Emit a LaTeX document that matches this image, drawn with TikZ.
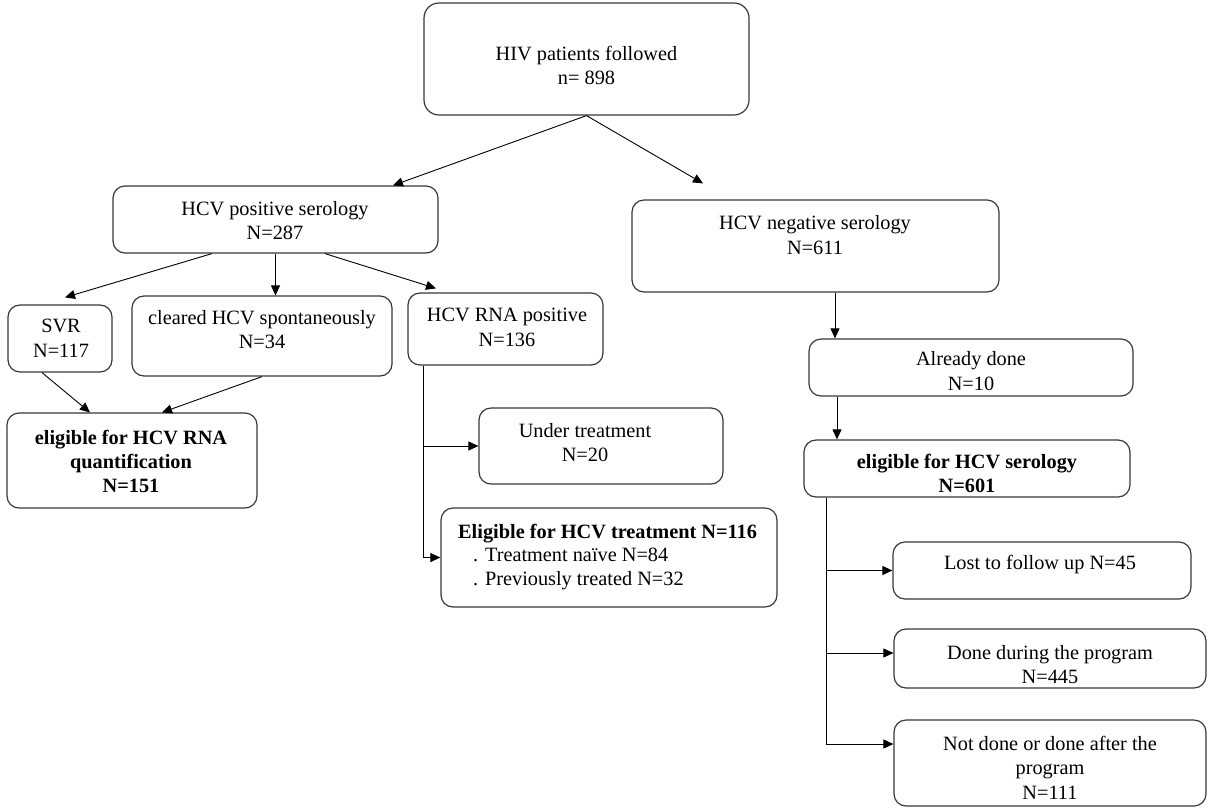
\documentclass[tikz,border=0pt]{standalone}
\usepackage{fontspec}
\setmainfont{Liberation Serif}
\usetikzlibrary{arrows.meta,calc}
\begin{document}
\begin{tikzpicture}[x=1pt,y=-1pt,
  box/.style={draw=black!78, line width=1.2pt, rounded corners=12pt, inner sep=0pt},
  txt/.style={align=center, inner sep=0pt, font=\fontsize{20.3}{24.5}\selectfont},
  arr/.style={draw=black, line width=0.9pt, -{Triangle[length=10pt,width=9pt]}},
  ln/.style={draw=black, line width=0.9pt}]
\useasboundingbox (0,0) rectangle (1207,807);

% boxes
\node[box, rounded corners=15pt, minimum width=325pt, minimum height=112pt] (hiv) at (586.5,59) {};
\node[box, minimum width=325pt, minimum height=67pt] (pos) at (275.5,219.5) {};
\node[box, minimum width=367pt, minimum height=92pt] (neg) at (815.5,246) {};
\node[box, minimum width=104pt, minimum height=67pt] (svr) at (60,338.5) {};
\node[box, minimum width=260pt, minimum height=80pt] (clr) at (262,336) {};
\node[box, minimum width=195pt, minimum height=72pt] (rna) at (505.5,329) {};
\node[box, minimum width=250pt, minimum height=95pt] (elrna) at (132,460.5) {};
\node[box, minimum width=244pt, minimum height=76pt] (under) at (601,446) {};
\node[box, minimum width=336pt, minimum height=99pt] (eltr) at (609,557.5) {};
\node[box, minimum width=324pt, minimum height=57pt] (done) at (971,367.5) {};
\node[box, minimum width=326pt, minimum height=57pt] (elser) at (967,468.5) {};
\node[box, minimum width=298pt, minimum height=57pt] (lost) at (1042,570.5) {};
\node[box, minimum width=312pt, minimum height=59pt] (during) at (1050,658.5) {};
\node[box, minimum width=312pt, minimum height=86pt] (notdone) at (1050,763) {};

% texts
\node[txt] (hivt) at (586.5,65.5) {HIV patients followed\\n= 898};
\node[txt] (post) at (275,220.5) {HCV positive serology\\N=287};
\node[txt] (negt) at (815,235) {HCV negative serology\\N=611};
\node[txt] (svrt) at (61,338.5) {SVR\\N=117};
\node[txt] (clrt) at (262,329.5) {cleared HCV spontaneously\\N=34};
\node[txt] (rnat) at (507,327.5) {HCV RNA positive\\N=136};
\node[txt, font=\fontsize{20.3}{24}\selectfont\bfseries] (elrnat) at (131,461) {eligible for HCV RNA\\quantification\\N=151};
\node[txt] (undert) at (585,442.5) {Under treatment\\N=20};
\node[txt, align=left, anchor=west, font=\fontsize{20.3}{23.5}\selectfont] (eltrt) at (458,557) {\textbf{Eligible for HCV treatment N=116}\\\hspace*{15pt}. Treatment naïve N=84\\\hspace*{15pt}. Previously treated N=32};
\node[txt] (donet) at (971,371) {Already done\\N=10};
\node[txt, font=\fontsize{20.3}{23.5}\selectfont\bfseries] (elsert) at (967,473.5) {eligible for HCV serology\\N=601};
\node[txt] (lostt) at (1040,565) {Lost to follow up N=45};
\node[txt] (duringt) at (1050,664.5) {Done during the program\\N=445};
\node[txt] (notdonet) at (1050,767.5) {Not done or done after the\\program\\N=111};

% connectors
\draw[arr] (hiv.south) -- ([xshift=117.5pt]pos.north);
\draw[arr] (hiv.south) -- ([xshift=-112.5pt,yshift=16pt]neg.north);
\draw[arr] ([xshift=-63.5pt]pos.south) -- ([xshift=5pt,yshift=7pt]svr.north);
\draw[arr] (pos.south) -- (pos.south |- clr.north);
\draw[arr] ([xshift=49.5pt]pos.south) -- ([xshift=-69.5pt,yshift=4pt]rna.north);
\draw[arr] ([xshift=-18pt]svr.south) -- ([xshift=-42pt]elrna.north);
\draw[arr] (clr.south) -- ([xshift=30pt]elrna.north);

\coordinate (rnaA) at ([xshift=-82.5pt]rna.south);
\draw[arr] (rnaA) |- (eltr.west);
\draw[arr] (rnaA |- under.west) -- (under.west);

\draw[arr] ([xshift=19.5pt]neg.south) -- ([xshift=19.5pt]neg.south |- done.north);
\draw[arr] ([xshift=-134pt]done.south) -- ([xshift=-134pt]done.south |- elser.north);

\coordinate (serA) at ([xshift=-141pt]elser.south);
\coordinate (duringIn) at ([yshift=5.5pt]during.west);
\coordinate (notdoneIn) at ([yshift=19pt]notdone.west);
\draw[arr] (serA) |- (notdoneIn);
\draw[arr] (serA |- lost.west) -- (lost.west);
\draw[arr] (serA |- duringIn) -- (duringIn);
\end{tikzpicture}
\end{document}
